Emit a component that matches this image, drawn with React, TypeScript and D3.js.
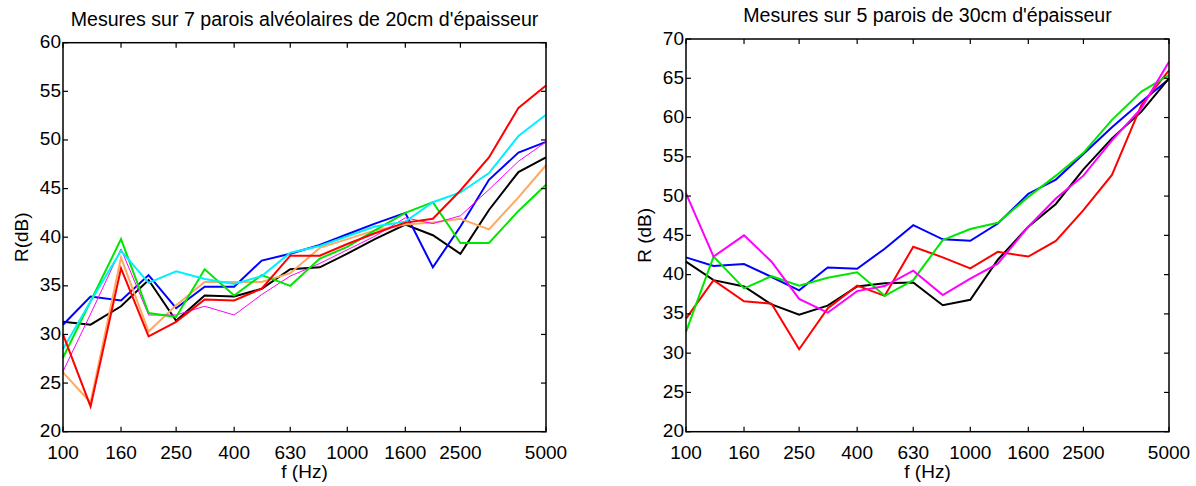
import { useEffect, useRef } from "react";
import * as d3 from "d3";

// bandes de tiers d'octave
const freqs = [100, 125, 160, 200, 250, 315, 400, 500, 630, 800, 1000, 1250, 1600, 2000, 2500, 3150, 4000, 5000];
const xTickFreqs = [100, 160, 250, 400, 630, 1000, 1600, 2500, 5000];
const yTicksLeft = [20, 25, 30, 35, 40, 45, 50, 55, 60];
const yTicksRight = [20, 25, 30, 35, 40, 45, 50, 55, 60, 65, 70];

// parois alvéolaires 20cm
const black20 = [31.3, 31.0, 32.9, 35.6, 31.4, 34.0, 33.9, 34.7, 36.7, 36.9, 38.3, 39.8, 41.3, 40.2, 38.3, 42.8, 46.7, 48.2];
const blue20 = [31.0, 33.9, 33.5, 36.1, 32.7, 34.9, 34.9, 37.6, 38.3, 39.2, 40.3, 41.4, 42.5, 36.9, 41.1, 45.9, 48.7, 49.8];
const orange20 = [26.1, 23.0, 37.9, 30.3, 33.0, 35.4, 35.4, 35.4, 36.3, 38.9, 39.8, 40.7, 41.3, 41.5, 41.9, 40.8, 44.1, 47.4];
const magenta20 = [26.2, 32.1, 38.8, 32.0, 32.0, 32.9, 32.0, 34.1, 36.0, 37.3, 38.7, 40.1, 42.0, 41.4, 42.2, 44.9, 47.8, 49.8];
const green20 = [27.6, 33.4, 39.8, 32.2, 31.8, 36.7, 34.0, 36.1, 35.0, 37.8, 39.0, 40.7, 42.5, 43.6, 39.4, 39.4, 42.7, 45.4];
const cyan20 = [28.5, 33.4, 38.6, 35.3, 36.5, 35.7, 35.2, 36.0, 38.4, 39.1, 40.1, 41.1, 41.6, 43.6, 44.6, 46.6, 50.4, 52.6];
const red20 = [30.0, 22.6, 36.8, 29.8, 31.3, 33.6, 33.5, 34.7, 38.1, 38.1, 39.3, 40.4, 41.5, 41.9, 44.8, 48.2, 53.3, 55.6];

// parois 30cm
const blue30 = [42.2, 41.1, 41.35, 39.7, 38.0, 40.9, 40.75, 43.3, 46.3, 44.5, 44.3, 46.5, 50.3, 52.1, 55.35, 58.75, 62.0, 64.9];
const black30 = [41.65, 39.3, 38.5, 36.2, 34.9, 36.05, 38.5, 38.9, 39.0, 36.1, 36.8, 41.9, 46.1, 49.0, 53.4, 57.35, 60.75, 65.0];
const red30 = [34.4, 39.3, 36.6, 36.3, 30.5, 35.7, 38.6, 37.3, 43.55, 42.2, 40.8, 42.9, 42.3, 44.3, 48.2, 52.7, 61.6, 66.0];
const green30 = [32.7, 42.3, 38.25, 39.8, 38.6, 39.6, 40.3, 37.3, 39.3, 44.4, 45.8, 46.6, 49.9, 52.6, 55.5, 59.7, 63.3, 65.4];
const magenta30 = [50.35, 42.3, 45.0, 41.65, 36.9, 35.15, 37.9, 38.55, 40.5, 37.4, 39.5, 41.4, 46.1, 49.7, 52.6, 57.1, 61.2, 67.1];

const font = "'Liberation Sans', Arial, Helvetica, sans-serif";

function drawPanel(svg, opts) {
  const { left, right, top, bottom, yDomain, yTicks, title, ylabel, series } = opts;

  const x = d3.scaleLog().domain([100, 5000]).range([left, right]);
  const y = d3.scaleLinear().domain(yDomain).range([bottom, top]);

  const g = svg.append("g");

  // courbes
  const line = d3
    .line()
    .x((d, i) => x(freqs[i]))
    .y((d) => y(d));

  series.forEach((s) => {
    g.append("path")
      .datum(s.values)
      .attr("d", line)
      .attr("fill", "none")
      .attr("stroke", s.color)
      .attr("stroke-width", s.width)
      .attr("stroke-linejoin", "miter");
  });

  // cadre
  g.append("rect")
    .attr("x", left)
    .attr("y", top)
    .attr("width", right - left)
    .attr("height", bottom - top)
    .attr("fill", "none")
    .attr("stroke", "#000")
    .attr("stroke-width", 1.5);

  const tickLen = 5;

  // graduations x (bas + haut, vers l'intérieur)
  xTickFreqs.forEach((f) => {
    g.append("line")
      .attr("x1", x(f)).attr("x2", x(f))
      .attr("y1", bottom).attr("y2", bottom - tickLen)
      .attr("stroke", "#000").attr("stroke-width", 1.2);
    g.append("line")
      .attr("x1", x(f)).attr("x2", x(f))
      .attr("y1", top).attr("y2", top + tickLen)
      .attr("stroke", "#000").attr("stroke-width", 1.2);
    g.append("text")
      .attr("x", x(f))
      .attr("y", bottom + 27)
      .attr("text-anchor", "middle")
      .attr("font-size", "19px")
      .attr("font-family", font)
      .attr("fill", "#000")
      .text(f);
  });

  // graduations y
  yTicks.forEach((v) => {
    g.append("line")
      .attr("x1", left).attr("x2", left + tickLen)
      .attr("y1", y(v)).attr("y2", y(v))
      .attr("stroke", "#000").attr("stroke-width", 1.2);
    g.append("line")
      .attr("x1", right).attr("x2", right - tickLen)
      .attr("y1", y(v)).attr("y2", y(v))
      .attr("stroke", "#000").attr("stroke-width", 1.2);
    g.append("text")
      .attr("x", left - 2)
      .attr("y", y(v) + 5.5)
      .attr("text-anchor", "end")
      .attr("font-size", "19px")
      .attr("font-family", font)
      .attr("fill", "#000")
      .text(v);
  });

  // titre
  g.append("text")
    .attr("x", (left + right) / 2)
    .attr("y", top - 17)
    .attr("text-anchor", "middle")
    .attr("font-size", "19.6px")
    .attr("font-family", font)
    .attr("fill", "#000")
    .text(title);

  // légende axe x
  g.append("text")
    .attr("x", (left + right) / 2)
    .attr("y", 478)
    .attr("text-anchor", "middle")
    .attr("font-size", "19px")
    .attr("font-family", font)
    .attr("fill", "#000")
    .text("f (Hz)");

  // légende axe y
  const cy = (top + bottom) / 2;
  const cx = left - 42;
  g.append("text")
    .attr("transform", `translate(${cx},${cy}) rotate(-90)`)
    .attr("text-anchor", "middle")
    .attr("dy", "0.35em")
    .attr("font-size", "19px")
    .attr("font-family", font)
    .attr("fill", "#000")
    .text(ylabel);
}

function App() {
  const ref = useRef(null);

  useEffect(() => {
    const svg = d3.select(ref.current);
    svg.selectAll("*").remove();

    drawPanel(svg, {
      left: 63,
      right: 546,
      top: 42.7,
      bottom: 431.7,
      yDomain: [20, 60],
      yTicks: yTicksLeft,
      title: "Mesures sur 7 parois alvéolaires de 20cm d'épaisseur",
      ylabel: "R(dB)",
      series: [
        { values: black20, color: "#000000", width: 2 },
        { values: blue20, color: "#0000ff", width: 2 },
        { values: orange20, color: "#ffa860", width: 2 },
        { values: magenta20, color: "#ff00ff", width: 1 },
        { values: green20, color: "#00e600", width: 2 },
        { values: cyan20, color: "#00f0ff", width: 2 },
        { values: red20, color: "#ff0000", width: 2 },
      ],
    });

    drawPanel(svg, {
      left: 686,
      right: 1169,
      top: 39,
      bottom: 431.7,
      yDomain: [20, 70],
      yTicks: yTicksRight,
      title: "Mesures sur 5 parois de 30cm d'épaisseur",
      ylabel: "R (dB)",
      series: [
        { values: blue30, color: "#0000ff", width: 2 },
        { values: black30, color: "#000000", width: 2 },
        { values: red30, color: "#ff0000", width: 2 },
        { values: green30, color: "#00e600", width: 2 },
        { values: magenta30, color: "#ff00ff", width: 2 },
      ],
    });

    return () => {
      d3.select(ref.current).selectAll("*").remove();
    };
  }, []);

  return (
    <svg
      ref={ref}
      width={1196}
      height={486}
      style={{ position: "absolute", left: 0, top: 0, background: "#fff" }}
    ></svg>
  );
}

export default App;
